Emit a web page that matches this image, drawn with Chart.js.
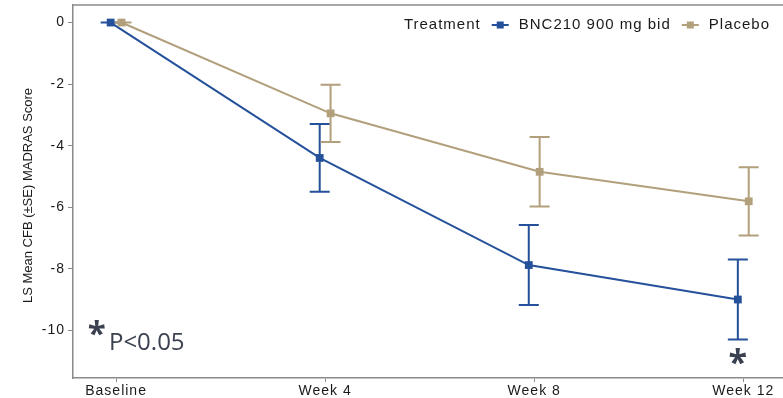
<!DOCTYPE html>
<html><head><meta charset="utf-8">
<script src="https://cdn.jsdelivr.net/npm/chart.js@4.4.1/dist/chart.umd.min.js"></script>
<style>html,body{margin:0;padding:0;background:#fff;overflow:hidden}#wrap{width:783px;height:398px;position:relative}</style>
</head><body><div id="wrap"><canvas id="c"></canvas></div>
<script>
const categories = ['Baseline', 'Week 4', 'Week 8', 'Week 12'];
const seriesNames = ['BNC210 900 mg bid', 'Placebo'];
const bncMean = [0, -4.4, -7.88, -9.0];
const bncSE = [0, 1.1, 1.3, 1.3];
const placeboMean = [0, -2.95, -4.85, -5.81];
const placeboSE = [0, 0.93, 1.13, 1.11];
const yTicks = [0, -2, -4, -6, -8, -10];
const legendTitle = 'Treatment';
const yTitle = 'LS Mean CFB (\u00b1SE) MADRAS Score';
const noteText = 'P<0.05';
const sigMark = '*';

const BLUE = '#24519a', TAN = '#b29f7b', AXIS = '#8a8a8a', TXT = '#1a1a1a', NOTE = '#3b4150';
const DODGE = 0.026;
const FONT = '"Liberation Sans", Arial, sans-serif';
function pts(means, off) { return means.map((m, i) => ({x: i + off, y: m})); }
function noPad(s) { s.paddingTop = 0; s.paddingBottom = 0; s.paddingLeft = 0; s.paddingRight = 0; }

const spacingPlugin = {
  id: 'spacing',
  beforeUpdate(c) { c.ctx.letterSpacing = '1px'; },
  beforeDraw(c) { c.ctx.letterSpacing = '1px'; }
};

const errorBars = {
  id: 'errorBars',
  beforeDatasetsDraw(c) {
    const ctx = c.ctx, ys = c.scales.y;
    c.data.datasets.forEach((ds, i) => {
      const meta = c.getDatasetMeta(i);
      ctx.save();
      ctx.strokeStyle = ds.borderColor; ctx.lineWidth = 2;
      meta.data.forEach((p, j) => {
        const m = ds.data[j].y, e = ds.errors[j];
        const t = ys.getPixelForValue(m + e), b = ys.getPixelForValue(m - e);
        ctx.beginPath();
        ctx.moveTo(p.x, t); ctx.lineTo(p.x, b);
        ctx.moveTo(p.x - 10, t); ctx.lineTo(p.x + 10, t);
        ctx.moveTo(p.x - 10, b); ctx.lineTo(p.x + 10, b);
        ctx.stroke();
      });
      ctx.restore();
    });
  }
};

const decor = {
  id: 'decor',
  afterDraw(c) {
    const ctx = c.ctx, a = c.chartArea, xs = c.scales.x, ys = c.scales.y;
    // top border
    ctx.save();
    ctx.strokeStyle = AXIS; ctx.lineWidth = 1.5;
    ctx.beginPath(); ctx.moveTo(a.left, a.top); ctx.lineTo(a.right, a.top); ctx.stroke();
    ctx.restore();
    // y title
    ctx.save();
    ctx.letterSpacing = '0px';
    ctx.translate(28, (a.top + a.bottom) / 2 + 4);
    ctx.rotate(-Math.PI / 2);
    ctx.font = '13px ' + FONT; ctx.fillStyle = TXT;
    ctx.textAlign = 'center'; ctx.textBaseline = 'middle';
    ctx.fillText(yTitle, 0, 0);
    ctx.restore();
    // legend
    ctx.save();
    ctx.letterSpacing = '1px';
    ctx.font = '15px ' + FONT; ctx.fillStyle = TXT;
    ctx.textBaseline = 'middle'; ctx.textAlign = 'left';
    const ly = a.top + 20;
    const items = c.data.datasets.map(d => ({label: d.label, color: d.borderColor}));
    const symW = 17, g1 = 11, g2 = 10;
    let total = ctx.measureText(legendTitle).width;
    items.forEach(it => { total += g1 + symW + g2 + ctx.measureText(it.label).width; });
    let x = a.right - 13 - total;
    ctx.fillText(legendTitle, x, ly);
    x += ctx.measureText(legendTitle).width;
    items.forEach(it => {
      x += g1;
      ctx.strokeStyle = it.color; ctx.lineWidth = 2;
      ctx.beginPath(); ctx.moveTo(x, ly); ctx.lineTo(x + symW, ly); ctx.stroke();
      ctx.fillStyle = it.color;
      ctx.fillRect(x + symW / 2 - 3.5, ly - 3.5, 7, 7);
      x += symW + g2;
      ctx.fillStyle = TXT;
      ctx.fillText(it.label, x, ly);
      x += ctx.measureText(it.label).width;
    });
    ctx.restore();
    // annotations
    ctx.save();
    ctx.fillStyle = NOTE;
    ctx.letterSpacing = '0px';
    function star(cx, cy, size) {
      ctx.font = 'bold ' + size + 'px "Open Sans", sans-serif';
      ctx.textAlign = 'center'; ctx.textBaseline = 'alphabetic';
      const m = ctx.measureText(sigMark);
      const base = cy + (m.actualBoundingBoxAscent - m.actualBoundingBoxDescent) / 2;
      ctx.fillText(sigMark, cx, base);
    }
    star(xs.getPixelForValue(3 - DODGE), ys.getPixelForValue(-10.86), 34);
    star(xs.getPixelForValue(-0.093), ys.getPixelForValue(-9.93), 33);
    ctx.font = '24px "Open Sans", sans-serif';
    ctx.textAlign = 'left'; ctx.textBaseline = 'alphabetic';
    ctx.fillText(noteText, xs.getPixelForValue(-0.034), ys.getPixelForValue(-10.63));
    ctx.restore();
  }
};

new Chart(document.getElementById('c'), {
  type: 'line',
  data: {
    datasets: [
      {label: seriesNames[0], data: pts(bncMean, -DODGE), errors: bncSE, borderColor: BLUE, backgroundColor: BLUE,
       borderWidth: 2, pointStyle: 'rect', pointRadius: 5.5, pointBorderWidth: 0, order: 1},
      {label: seriesNames[1], data: pts(placeboMean, DODGE), errors: placeboSE, borderColor: TAN, backgroundColor: TAN,
       borderWidth: 2, pointStyle: 'rect', pointRadius: 5.5, pointBorderWidth: 0, order: 0}
    ]
  },
  options: {
    responsive: true, maintainAspectRatio: false, animation: false,
    layout: {autoPadding: false, padding: {top: 5, left: 0, right: 0, bottom: 0}},
    plugins: {legend: {display: false}, tooltip: {enabled: false}},
    scales: {
      x: {
        type: 'linear', min: -0.206, max: 3.19,
        afterBuildTicks(s) { s.ticks = categories.map((_, i) => ({value: i})); },
        afterFit(s) { s.height = 20; noPad(s); },
        ticks: {autoSkip: false, maxRotation: 0, padding: 1, color: TXT, font: {family: FONT, size: 14},
                callback: v => categories[v]},
        grid: {display: true, drawOnChartArea: false, drawTicks: true, tickLength: 4, color: AXIS},
        border: {display: true, color: AXIS, width: 1.5}
      },
      y: {
        min: -11.55, max: 0.57,
        afterBuildTicks(s) { s.ticks = yTicks.map(v => ({value: v})); },
        afterFit(s) { s.width = 73; noPad(s); },
        ticks: {padding: 3, color: TXT, font: {family: FONT, size: 14}},
        grid: {display: true, drawOnChartArea: false, drawTicks: true, tickLength: 5, color: AXIS},
        border: {display: true, color: AXIS, width: 1.5}
      }
    }
  },
  plugins: [spacingPlugin, errorBars, decor]
});
</script>
</body></html>
